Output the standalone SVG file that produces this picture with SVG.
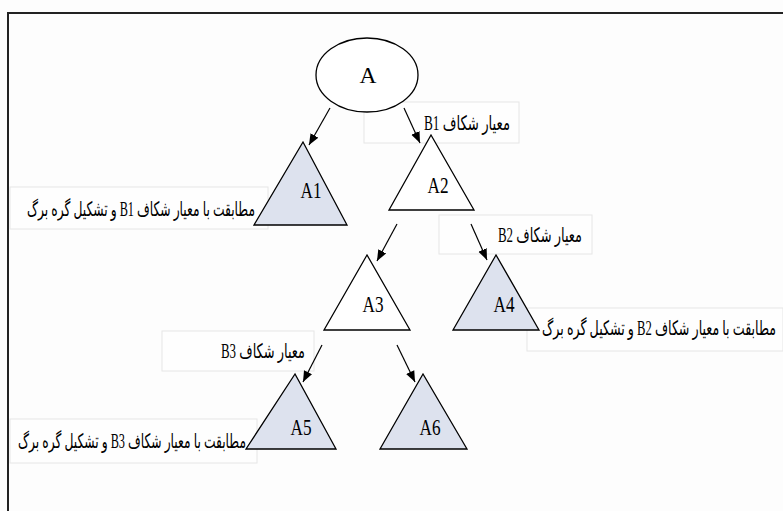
<svg xmlns="http://www.w3.org/2000/svg" width="783" height="511" viewBox="0 0 783 511">
<style>
.bg{fill:#fdfdfd}
.frame{fill:none;stroke:#222;stroke-width:2}
.node{stroke:#000;stroke-width:1.3;stroke-linejoin:miter}
.open{fill:#ffffff}
.leaf{fill:#dde2ee}
.nl{font-family:"Liberation Serif","DejaVu Serif",serif;font-size:23px;fill:#000;text-anchor:middle}
.box{fill:#fefefe;stroke:#e6e6e6;stroke-width:1}
.lab{font-family:"Liberation Serif","DejaVu Sans",serif;font-size:20px;fill:#000;text-anchor:middle;direction:rtl;unicode-bidi:embed}
.conn{stroke:#000;stroke-width:1.2;fill:none;marker-end:url(#ah)}
</style>
<defs>
<marker id="ah" markerUnits="userSpaceOnUse" markerWidth="12" markerHeight="10" refX="11" refY="5" orient="auto">
<path d="M0,0.5 L11,5 L0,9.5 Z" fill="#000"/>
</marker>
</defs>
<rect class="bg" x="0" y="0" width="783" height="511"/>
<rect class="frame" x="8" y="13" width="800" height="530"/>

<g id="label-B1">
<rect class="box" x="364" y="102" width="155" height="41"/>
<text class="lab" x="467" y="130" textLength="86" lengthAdjust="spacingAndGlyphs">معیار شکاف B1</text>
</g>
<g id="label-A1-leaf">
<rect class="box" x="10" y="187" width="258" height="42"/>
<text class="lab" x="141" y="216" textLength="228" lengthAdjust="spacingAndGlyphs">مطابقت با معیار شکاف B1 و تشکیل گره برگ</text>
</g>
<g id="label-B2">
<rect class="box" x="439" y="215" width="153" height="39"/>
<text class="lab" x="540" y="242" textLength="84" lengthAdjust="spacingAndGlyphs">معیار شکاف B2</text>
</g>
<g id="label-A4-leaf">
<rect class="box" x="527" y="308" width="256" height="43"/>
<text class="lab" x="659" y="335" textLength="234" lengthAdjust="spacingAndGlyphs">مطابقت با معیار شکاف B2 و تشکیل گره برگ</text>
</g>
<g id="label-B3">
<rect class="box" x="162" y="331" width="152" height="40"/>
<text class="lab" x="263" y="358" textLength="84" lengthAdjust="spacingAndGlyphs">معیار شکاف B3</text>
</g>
<g id="label-A5-leaf">
<rect class="box" x="10" y="419" width="247" height="44"/>
<text class="lab" x="132" y="448" textLength="228" lengthAdjust="spacingAndGlyphs">مطابقت با معیار شکاف B3 و تشکیل گره برگ</text>
</g>

<g id="connectors">
<line class="conn" x1="330" y1="108" x2="309" y2="145"/>
<line class="conn" x1="404" y1="108" x2="420" y2="143"/>
<line class="conn" x1="397" y1="224" x2="377" y2="261"/>
<line class="conn" x1="471" y1="224" x2="487" y2="260"/>
<line class="conn" x1="322" y1="345" x2="303" y2="382"/>
<line class="conn" x1="397" y1="345" x2="415" y2="382"/>
</g>

<g id="node-A">
<ellipse class="node open" cx="367" cy="75" rx="51" ry="37"/>
<text class="nl" x="368" y="83" font-size="27" textLength="17" lengthAdjust="spacingAndGlyphs">A</text>
</g>
<g id="node-A1">
<polygon class="node leaf" points="303,142 254,225 347,225"/>
<text class="nl" x="311" y="198" textLength="21" lengthAdjust="spacingAndGlyphs">A1</text>
</g>
<g id="node-A2">
<polygon class="node open" points="431,135 389,210 474,210"/>
<text class="nl" x="438" y="193" textLength="21" lengthAdjust="spacingAndGlyphs">A2</text>
</g>
<g id="node-A3">
<polygon class="node open" points="367,255 324,330 410,330"/>
<text class="nl" x="373" y="312" textLength="21" lengthAdjust="spacingAndGlyphs">A3</text>
</g>
<g id="node-A4">
<polygon class="node leaf" points="496,255 453,330 539,330"/>
<text class="nl" x="504" y="312" textLength="21" lengthAdjust="spacingAndGlyphs">A4</text>
</g>
<g id="node-A5">
<polygon class="node leaf" points="295,374 246,449 336,449"/>
<text class="nl" x="301" y="435" textLength="21" lengthAdjust="spacingAndGlyphs">A5</text>
</g>
<g id="node-A6">
<polygon class="node leaf" points="423,374 380,449 467,449"/>
<text class="nl" x="430" y="435" textLength="21" lengthAdjust="spacingAndGlyphs">A6</text>
</g>
</svg>
